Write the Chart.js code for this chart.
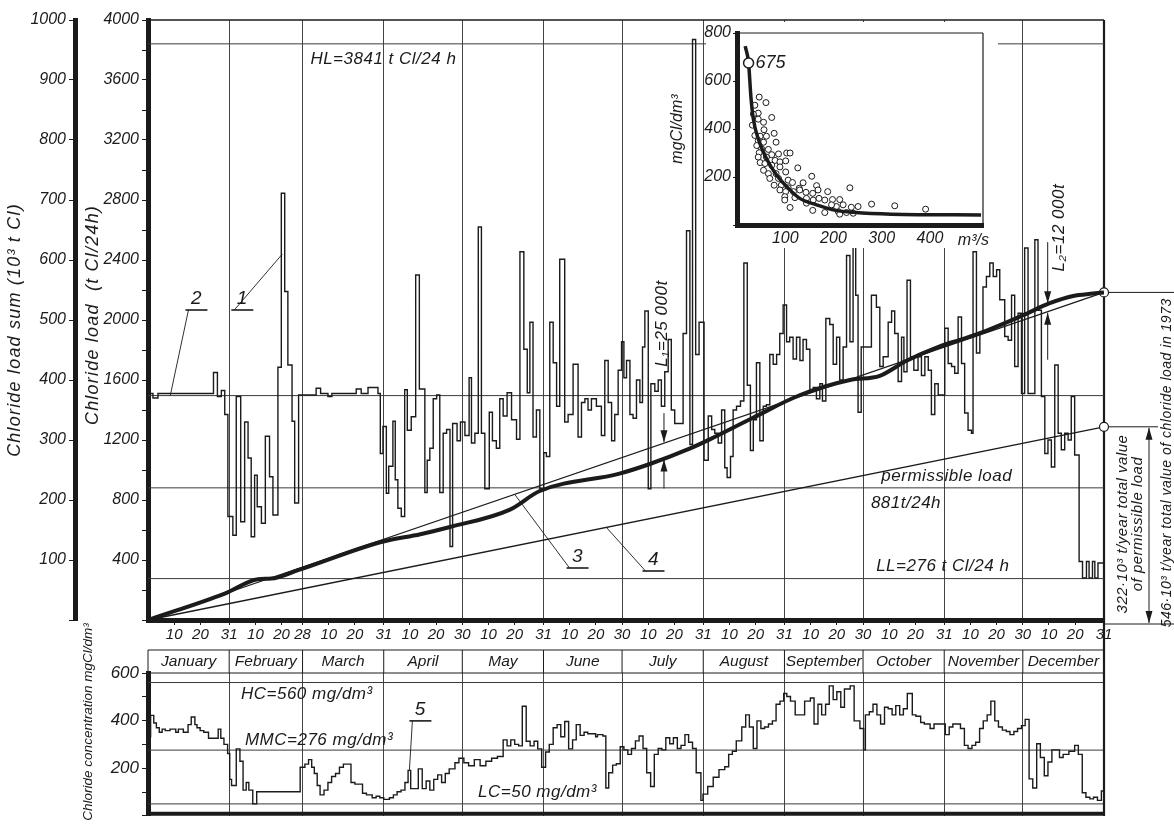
<!DOCTYPE html>
<html>
<head>
<meta charset="utf-8">
<script src="https://cdn.jsdelivr.net/npm/chart.js@4.4.1/dist/chart.umd.min.js"></script>
<style>
  html, body { margin: 0; padding: 0; background: #fff; }
  #wrap { position: relative; width: 1174px; height: 829px; overflow: hidden; background: #fff; }
  canvas { position: absolute; }
  #loadChart { left: 0; top: 0; }
  #concChart { left: 0; top: 600px; }
  #insetChart { left: 660px; top: 14px; }
</style>
</head>
<body>
<div id="wrap">
  <canvas id="loadChart" width="1174" height="650"></canvas>
  <canvas id="concChart" width="1174" height="229"></canvas>
  <canvas id="insetChart" width="340" height="245"></canvas>
</div>
<script>
// ---- data ----
const monthNames = ['January', 'February', 'March', 'April', 'May', 'June', 'July', 'August', 'September', 'October', 'November', 'December'];
const monthEnds = [31, 59, 90, 120, 151, 181, 212, 243, 273, 304, 334, 365];
const dayTickDays = [10, 20, 31, 41, 51, 59, 69, 79, 90, 100, 110, 120, 130, 140, 151, 161, 171, 181, 191, 201, 212, 222, 232, 243, 253, 263, 273, 283, 293, 304, 314, 324, 334, 344, 354, 365];
const dayTickLabels = ['10', '20', '31', '10', '20', '28', '10', '20', '31', '10', '20', '30', '10', '20', '31', '10', '20', '30', '10', '20', '31', '10', '20', '31', '10', '20', '30', '10', '20', '31', '10', '20', '30', '10', '20', '31'];

// daily chloride load (t Cl/24h), step starts in day-of-year
const loadDays = [0, 1.9, 3.8, 25, 26.5, 28, 29.3, 30.5, 32.4, 33.7, 35.4, 36.9, 38.2, 39.4, 40.7, 41.7, 43.3, 44.8, 46.4, 47.7, 49.6, 50.9, 52.2, 53.4, 55, 56, 57.5, 64.2, 65.9, 68.7, 70.2, 79.5, 81.4, 84, 87.8, 88.7, 89.7, 91, 91.9, 93.5, 94.4, 95.4, 96.7, 98, 99, 100.5, 102.2, 103.6, 105.7, 106.6, 107.6, 108.9, 110.2, 111.4, 112.7, 114, 115.3, 116.3, 118, 119.3, 121, 122.6, 123.5, 124.8, 126.1, 127.3, 128.6, 130.3, 131.5, 133, 134.3, 135.6, 137.1, 138.8, 140.7, 142, 143.5, 144.8, 145.8, 147, 148.3, 149.6, 151.1, 152.1, 153.4, 154.7, 156, 157.2, 159.1, 160.4, 162.3, 164.2, 165.5, 166.8, 168, 169.3, 171.2, 173.1, 174.4, 175.7, 177, 178.2, 179.5, 180.8, 181.7, 182.7, 184, 185.2, 186.5, 187.8, 188.8, 189.7, 191, 192, 193.5, 194.8, 196, 197.3, 198.6, 199.8, 201.1, 204.3, 205.6, 206.9, 207.9, 209.1, 210.4, 212.3, 213.9, 215.2, 216.4, 217.7, 219, 220.2, 221.1, 222.4, 223.4, 224.7, 226.2, 227.5, 228.8, 230, 231.1, 232.3, 233.6, 234.9, 236.1, 237.4, 238.7, 240, 241.2, 242.5, 243.8, 245, 246.3, 247.6, 248.9, 250.1, 251.4, 252.7, 254, 255.2, 256.5, 257.5, 258.8, 260.3, 261.6, 262.9, 264.1, 265.4, 266.7, 268, 269.2, 270.2, 271.1, 272.3, 276.2, 278.1, 279.4, 280.7, 282.6, 283.9, 285.1, 286.4, 287.7, 288.6, 289.8, 291.1, 292.4, 294, 295.3, 296.6, 297.9, 299.1, 300.4, 301.7, 304.2, 305.5, 306.8, 308, 309.3, 310.6, 311.8, 313.1, 314.4, 315, 316.3, 317.6, 318.8, 320.1, 321.4, 322.7, 324, 325.2, 327.1, 328.4, 329.7, 330.9, 332.2, 333.5, 334.7, 336, 338.6, 339.8, 341.1, 342.4, 343.6, 344.9, 346.2, 347.5, 348.7, 350, 351.3, 352.5, 353.8, 355.5, 356.8, 358.3, 359.3, 360.6, 361.5, 362.7];
const loadValues = [1510, 1480, 1510, 1650, 1490, 1530, 1370, 690, 565, 1490, 655, 1320, 1080, 555, 965, 755, 645, 1225, 955, 700, 1685, 2845, 2190, 1700, 1325, 780, 1500, 1545, 1510, 1490, 1510, 1540, 1510, 1550, 1510, 1110, 1290, 845, 1025, 1325, 935, 745, 690, 1535, 1265, 1355, 2300, 1540, 850, 1065, 1145, 1475, 1500, 850, 1245, 1270, 490, 1310, 1195, 1320, 1230, 1615, 1180, 1245, 2620, 1245, 875, 1385, 1195, 1145, 1475, 1360, 1515, 1335, 1205, 2455, 1805, 1515, 1985, 1220, 1400, 875, 1115, 1090, 1985, 1715, 1425, 2405, 1320, 1370, 1705, 1220, 1450, 1475, 1400, 1475, 1425, 1230, 1730, 1450, 1195, 1370, 1665, 1855, 1615, 1730, 1370, 1345, 1600, 1450, 1820, 2060, 875, 1575, 1525, 1600, 1425, 1655, 1870, 1400, 1310, 1910, 2595, 1170, 3870, 1770, 1985, 1065, 1360, 1270, 1245, 1180, 1400, 1015, 950, 1090, 1400, 1425, 1460, 2380, 1565, 1130, 1335, 1715, 1195, 1425, 1435, 1770, 1705, 1770, 1910, 2100, 1855, 1885, 1740, 1885, 1730, 1870, 1805, 1525, 1550, 1475, 1575, 1460, 2010, 1970, 1705, 1885, 1600, 1820, 2430, 1855, 2520, 2165, 1385, 1820, 2165, 2085, 1690, 1755, 1985, 2060, 1910, 1590, 1885, 1655, 2265, 1755, 1665, 1755, 1630, 1755, 1665, 1370, 1575, 1500, 1945, 1710, 1690, 1645, 2020, 1710, 1380, 1265, 1245, 2455, 1780, 1920, 2220, 2290, 2380, 2290, 2335, 2135, 1890, 1865, 2165, 1690, 2045, 1510, 2480, 1510, 2535, 2065, 1490, 1110, 1200, 1020, 1700, 1245, 1135, 1245, 1200, 1490, 1100, 390, 280, 390, 280, 390, 280, 380];

// cumulative chloride load (10^3 t Cl), curve 3
const sumDays = [0, 29.3, 42, 47, 57.3, 89, 104, 115.3, 138.2, 149.6, 180, 191.6, 207, 214.5, 231, 249, 268, 279.4, 289.6, 302.3, 310, 317.6, 334.1, 344.3, 353.2, 360.8, 365];
const sumValues = [0, 44, 68, 69, 83, 130, 143, 155, 184, 215, 244, 260, 286, 301, 337, 375, 400, 407, 432, 456, 467, 478, 508, 528, 540, 544, 546];

// straight totals: actual year total and permissible total (10^3 t)
const lineDays = [0, 365];
const totalLine = [0, 546];
const permLine = [0, 322];

// horizontal levels (t Cl/24h)
const levelHL = 3841;
const levelMean = 1496;
const levelPerm = 881;
const levelLL = 276;

// chloride concentration (mg Cl/dm3), step starts in day-of-year
const concDays = [0, 1, 2.2, 3.2, 4.3, 5.4, 6.6, 8.4, 10.6, 11.6, 13.5, 15.3, 16.5, 17.9, 18.7, 19.9, 21.3, 23.1, 26.8, 27.8, 29, 30.4, 31.2, 31.9, 33.7, 35.1, 36.3, 37.5, 38.5, 40, 41.5, 58.1, 59.9, 61.3, 62.5, 63.5, 64.6, 65.7, 67.2, 68.7, 70.1, 71.6, 73.1, 74.6, 77.5, 79, 81.9, 83.4, 85.6, 87.1, 88.5, 90, 92.2, 93.7, 95.1, 96.6, 98.1, 99.3, 100.3, 103.2, 104.7, 106.2, 107.6, 109.1, 110.6, 112.1, 113.5, 115, 117.2, 118.7, 120.6, 122.4, 124.6, 126.8, 129, 131.2, 133.4, 135.6, 137.1, 138.5, 140, 141.5, 142.9, 144.4, 145.9, 147.4, 148.8, 150.3, 151.8, 153.2, 154.7, 156.2, 157.6, 159.1, 160.6, 162.1, 163.5, 165, 166.5, 167.9, 170.9, 171.6, 173.7, 174.8, 175.9, 177.4, 178.8, 180.3, 181.7, 183.2, 184.6, 186.1, 187.5, 189, 190.4, 191.9, 193.3, 194.8, 196.2, 197.7, 199.2, 200.6, 202.1, 203.5, 205, 206.4, 207.9, 209.3, 211.1, 211.9, 213.7, 215.8, 218, 220.2, 221.7, 223.1, 224.6, 226.7, 228.2, 229.6, 231.1, 232.5, 234, 235.4, 236.9, 238.4, 239.8, 241.3, 242.7, 243.9, 245.3, 247.1, 250.7, 252.9, 254.3, 255.8, 257.2, 258.7, 260.1, 261.6, 263, 264.5, 265.9, 268.1, 269.6, 271.8, 273.2, 273.9, 275.4, 276.8, 278.3, 279.7, 281.2, 282.6, 284.1, 285.5, 287, 288.4, 289.9, 291.8, 293.2, 295, 296.4, 298.6, 300.1, 304.4, 305.9, 307.3, 310.2, 311.7, 313.1, 314.6, 316, 317.5, 318.9, 320.4, 321.8, 323.3, 324.7, 326.2, 327.7, 329.1, 330.6, 332, 333.5, 334.9, 336.4, 337.8, 339.3, 340.7, 342.2, 343.6, 345.1, 348, 349.4, 351.6, 353.8, 355.2, 356.7, 358.1, 359.6, 361, 362.5, 364];
const concValues = [332, 422, 390, 370, 351, 364, 358, 364, 351, 364, 351, 383, 415, 383, 370, 358, 351, 326, 364, 326, 300, 262, 153, 127, 281, 229, 108, 140, 108, 50, 101, 204, 217, 236, 204, 178, 127, 88, 108, 140, 165, 178, 204, 217, 140, 133, 95, 88, 76, 82, 76, 69, 76, 88, 101, 108, 140, 191, 114, 197, 114, 146, 108, 153, 172, 140, 178, 197, 223, 242, 223, 210, 236, 210, 229, 242, 249, 319, 294, 319, 300, 294, 460, 313, 294, 313, 281, 204, 268, 300, 370, 383, 332, 396, 281, 319, 383, 338, 351, 345, 332, 341, 335, 117, 181, 213, 219, 290, 277, 258, 283, 315, 335, 283, 181, 123, 258, 283, 277, 328, 303, 328, 283, 296, 341, 309, 283, 181, 65, 91, 123, 162, 194, 206, 258, 271, 315, 373, 424, 373, 283, 399, 367, 373, 386, 399, 469, 482, 514, 501, 482, 424, 482, 495, 386, 469, 424, 469, 546, 488, 521, 456, 533, 546, 399, 367, 277, 424, 437, 469, 424, 386, 456, 450, 424, 463, 424, 450, 514, 424, 418, 392, 386, 367, 386, 341, 373, 386, 367, 296, 283, 296, 309, 367, 399, 424, 482, 399, 373, 360, 354, 341, 354, 367, 379, 405, 155, 117, 303, 245, 168, 226, 277, 245, 258, 271, 296, 258, 97, 78, 71, 78, 65, 104];

// concentration levels (mg/dm3)
const levelHC = 560;
const levelMMC = 276;
const levelLC = 50;

// inset: concentration vs. discharge
const scatterFlow = [46, 60, 37, 44, 34, 72, 44, 55, 32, 56, 77, 37, 48, 61, 44, 55, 81, 41, 51, 65, 46, 72, 86, 103, 44, 61, 79, 89, 101, 110, 48, 58, 72, 89, 126, 55, 65, 81, 101, 68, 86, 106, 115, 155, 77, 92, 106, 129, 165, 137, 89, 101, 117, 130, 143, 157, 168, 188, 234, 99, 120, 144, 158, 170, 182, 198, 213, 99, 110, 144, 157, 182, 210, 220, 237, 251, 279, 327, 391, 213, 227, 241, 206, 196];
const scatterConc = [533, 510, 499, 466, 462, 448, 441, 428, 416, 397, 382, 373, 370, 370, 352, 345, 345, 331, 318, 315, 301, 293, 296, 300, 283, 283, 269, 263, 267, 300, 260, 256, 249, 242, 238, 228, 214, 214, 221, 194, 194, 187, 177, 203, 166, 166, 155, 153, 164, 176, 146, 139, 139, 146, 136, 132, 146, 139, 155, 118, 114, 111, 104, 111, 104, 106, 106, 104, 73, 91, 61, 52, 56, 84, 74, 77, 87, 80, 66, 45, 52, 49, 77, 84];
const curveFlow = [17, 24, 29, 34, 44, 61, 82, 103, 130, 165, 199, 241, 320, 506];
const curveConc = [745, 675, 530, 441, 359, 277, 208, 160, 111, 84, 63, 53, 45, 42];
const markedFlow = [24];
const markedConc = [675];

// ---- drawing ----
const INK = '#1b1b1b';
const FAM = "'Liberation Sans', 'DejaVu Sans', sans-serif";
const fnt = (size) => 'italic ' + size + 'px ' + FAM;

Chart.defaults.font.family = FAM;
Chart.defaults.font.style = 'italic';
Chart.defaults.color = INK;
Chart.defaults.animation = false;

const pts = (xs, ys) => xs.map((x, i) => ({ x: x, y: ys[i] }));
const stepPts = (xs, ys, end) => pts(xs, ys).concat([{ x: end, y: ys[ys.length - 1] }]);
const flat = (v) => [{ x: 0, y: v }, { x: 365, y: v }];

function interp(xs, ys, x) {
  for (let i = 1; i < xs.length; i++) {
    if (x <= xs[i]) return ys[i - 1] + (ys[i] - ys[i - 1]) * (x - xs[i - 1]) / (xs[i] - xs[i - 1]);
  }
  return ys[ys.length - 1];
}

function line(ctx, x1, y1, x2, y2) {
  ctx.beginPath(); ctx.moveTo(x1, y1); ctx.lineTo(x2, y2); ctx.stroke();
}
function arrow(ctx, x, yFrom, yTip) {
  line(ctx, x, yFrom, x, yTip);
  const d = yTip > yFrom ? 1 : -1;
  ctx.beginPath();
  ctx.moveTo(x, yTip); ctx.lineTo(x - 3.5, yTip - d * 12); ctx.lineTo(x + 3.5, yTip - d * 12);
  ctx.closePath(); ctx.fill();
}
function text(ctx, s, x, y, size, align) {
  ctx.font = fnt(size); ctx.textAlign = align || 'left'; ctx.textBaseline = 'middle';
  ctx.fillText(s, x, y);
}
function vtext(ctx, s, x, y, size) {
  ctx.save(); ctx.translate(x, y); ctx.rotate(-Math.PI / 2);
  ctx.font = fnt(size); ctx.textAlign = 'center'; ctx.textBaseline = 'middle';
  ctx.fillText(s, 0, 0); ctx.restore();
}
function tag(ctx, s, x, y, lx, ly) {
  // underlined number with a leader line
  text(ctx, s, x, y, 19, 'center');
  ctx.lineWidth = 1.6; line(ctx, x - 11, y + 11, x + 11, y + 11);
  ctx.lineWidth = 0.9; line(ctx, x - 8, y + 11, lx, ly);
}

const monthGrid = (c) => (c.tick && monthEnds.includes(c.tick.value)) ? '#444' : 'rgba(0,0,0,0)';

// ---------- main chart: daily load and cumulative sum ----------
const loadDecor = {
  id: 'loadDecor',
  beforeDatasetsDraw(chart) {
    const { ctx, chartArea: a, scales } = chart;
    const YS = (v) => scales.ySum.getPixelForValue(v);
    ctx.save();
    ctx.strokeStyle = INK;
    ctx.lineWidth = 1.5; line(ctx, a.left, a.top, a.right, a.top);
    ctx.lineWidth = 2.2; line(ctx, a.right, a.top, a.right, chart.height);
    ctx.lineWidth = 1;
    line(ctx, a.right, YS(totalLine[1]), chart.width, YS(totalLine[1]));
    line(ctx, a.right, YS(permLine[1]), chart.width - 16, YS(permLine[1]));
    line(ctx, a.right, a.bottom + 4, chart.width, a.bottom + 4);
    ctx.restore();
  },
  afterDraw(chart) {
    const { ctx, chartArea: a, scales } = chart;
    const X = (v) => scales.x.getPixelForValue(v);
    const YL = (v) => scales.yLoad.getPixelForValue(v);
    const YS = (v) => scales.ySum.getPixelForValue(v);
    ctx.save();
    ctx.strokeStyle = INK; ctx.fillStyle = INK;

    // axis titles
    ctx.letterSpacing = '1.2px';
    vtext(ctx, 'Chloride load sum (10\u00b3 t Cl)', 15, (a.top + a.bottom) / 2 + 10, 18);
    vtext(ctx, 'Chloride load  (t Cl/24h)', 93, (a.top + a.bottom) / 2 - 5, 18);

    ctx.letterSpacing = '0.5px';
    text(ctx, 'HL=3841 t Cl/24 h', X(62), YL(3740), 17);
    text(ctx, 'permissible load', X(280), YL(955), 17);
    text(ctx, '881t/24h', X(276), YL(780), 17);
    text(ctx, 'LL=276 t Cl/24 h', X(278), YL(355), 17);

    tag(ctx, '2', X(18.5), YL(2140), X(8.5), YL(levelMean));
    tag(ctx, '1', X(36), YL(2140), X(51.3), YL(2440));
    tag(ctx, '3', X(164), YS(105), X(140), YS(totalLine[1] * 140 / 365));
    tag(ctx, '4', X(193), YS(100), X(175), YS(permLine[1] * 175 / 365));

    // L1 and L2 gaps between the actual and the straight cumulative lines
    ctx.lineWidth = 1;
    const d1 = 197, d2 = 343.5;
    const thin1 = YS(totalLine[1] * d1 / 365), thick1 = YS(interp(sumDays, sumValues, d1));
    arrow(ctx, X(d1), thin1 - 30, thin1 - 1);
    arrow(ctx, X(d1), thick1 + 30, thick1 + 1);
    vtext(ctx, 'L\u2081=25 000t', X(d1) - 2, YS(494), 17);
    const thin2 = YS(totalLine[1] * d2 / 365), thick2 = YS(interp(sumDays, sumValues, d2));
    arrow(ctx, X(d2), thick2 - 62, thick2 - 1);
    arrow(ctx, X(d2), thin2 + 48, thin2 + 1);
    vtext(ctx, 'L\u2082=12 000t', X(d2) + 12, YS(654), 17);

    // right margin: totals
    const ax = a.right + 45;
    ctx.lineWidth = 1;
    arrow(ctx, ax, (YS(permLine[1]) + a.bottom) / 2, YS(permLine[1]) + 1);
    arrow(ctx, ax, (YS(permLine[1]) + a.bottom) / 2, a.bottom + 3);
    vtext(ctx, '322\u00b710\u00b3 t/year total value', a.right + 19, YS(160), 15);
    vtext(ctx, 'of permissible load', a.right + 34, YS(160), 15);
    vtext(ctx, '546\u00b710\u00b3 t/year total value of chloride load in 1973', a.right + 63, YS(262), 14);
    ctx.restore();
  }
};

const lvlStyle = { borderColor: '#3a3a3a', borderWidth: 1, pointRadius: 0, yAxisID: 'yLoad' };
const endDot = { pointRadius: (c) => (c.dataIndex === 1 ? 4.5 : 0), pointBackgroundColor: '#fff', pointBorderColor: INK, pointBorderWidth: 1.2, clip: false };

new Chart(document.getElementById('loadChart'), {
  type: 'line',
  data: {
    datasets: [
      { data: pts(sumDays, sumValues), yAxisID: 'ySum', borderColor: INK, borderWidth: 4, pointRadius: 0, cubicInterpolationMode: 'monotone' },
      Object.assign({ data: pts(lineDays, totalLine), yAxisID: 'ySum', borderColor: INK, borderWidth: 1.3 }, endDot),
      Object.assign({ data: pts(lineDays, permLine), yAxisID: 'ySum', borderColor: INK, borderWidth: 1.3 }, endDot),
      { data: stepPts(loadDays, loadValues, 365), yAxisID: 'yLoad', stepped: true, borderColor: INK, borderWidth: 1.4, pointRadius: 0 },
      Object.assign({ data: flat(levelHL) }, lvlStyle),
      Object.assign({ data: flat(levelMean) }, lvlStyle),
      Object.assign({ data: flat(levelPerm) }, lvlStyle),
      Object.assign({ data: flat(levelLL) }, lvlStyle)
    ]
  },
  options: {
    responsive: false,
    layout: { padding: { left: 0, top: 20, right: 70, bottom: 0 } },
    plugins: { legend: { display: false }, tooltip: { enabled: false } },
    scales: {
      x: {
        type: 'linear', min: 0, max: 365,
        afterBuildTicks: (s) => { s.ticks = dayTickDays.map((v) => ({ value: v })); },
        afterFit: (s) => { s.height = 30; },
        ticks: { autoSkip: false, maxRotation: 0, padding: 1, font: { size: 15 }, callback: (v, i) => dayTickLabels[i] },
        grid: { color: monthGrid, tickColor: INK, tickLength: 5, lineWidth: 1 },
        border: { color: INK, width: 5 }
      },
      yLoad: {
        type: 'linear', position: 'left', weight: 0, min: 0, max: 4000,
        afterFit: (s) => { s.width = 73; },
        ticks: { stepSize: 200, padding: 3, font: { size: 16 }, callback: (v) => (v > 0 && v % 400 === 0 ? v : '') },
        grid: { drawOnChartArea: false, tickColor: INK, tickLength: 6 },
        border: { color: INK, width: 5 }
      },
      ySum: {
        type: 'linear', position: 'left', weight: 1, min: 0, max: 1000,
        afterFit: (s) => { s.width = 75; },
        ticks: { stepSize: 100, padding: 3, font: { size: 16 }, callback: (v) => (v > 0 ? v : '') },
        grid: { drawOnChartArea: false, tickColor: INK, tickLength: 6 },
        border: { color: INK, width: 5 }
      }
    }
  },
  plugins: [loadDecor]
});

// ---------- lower chart: chloride concentration ----------
const concDecor = {
  id: 'concDecor',
  afterDraw(chart) {
    const { ctx, chartArea: a, scales } = chart;
    const X = (v) => scales.x.getPixelForValue(v);
    const Y = (v) => scales.y.getPixelForValue(v);
    const rowTop = a.top - 23;
    ctx.save();
    ctx.strokeStyle = INK; ctx.fillStyle = INK;
    ctx.lineWidth = 1;
    line(ctx, a.left, rowTop, a.right, rowTop);
    line(ctx, a.left, a.top, a.right, a.top);
    line(ctx, a.left, rowTop, a.left, a.top);
    let prev = 0;
    monthEnds.forEach((d, i) => {
      line(ctx, X(d), rowTop, X(d), a.top);
      text(ctx, monthNames[i], (X(prev) + X(d)) / 2, rowTop + 12, 15.5, 'center');
      prev = d;
    });
    ctx.lineWidth = 4; line(ctx, a.left, a.bottom - 2, a.right, a.bottom - 2);
    ctx.lineWidth = 2.2; line(ctx, a.right, rowTop, a.right, a.bottom);

    vtext(ctx, 'Chloride concentration mgCl/dm\u00b3', 88, 122, 13.5);
    ctx.letterSpacing = '0.5px';
    text(ctx, 'HC=560 mg/dm\u00b3', X(35.5), Y(510), 17);
    text(ctx, 'MMC=276 mg/dm\u00b3', X(37), Y(318), 17);
    text(ctx, 'LC=50 mg/dm\u00b3', X(126), Y(100), 17);
    tag(ctx, '5', X(104), Y(445), X(99.8), Y(191));
    ctx.restore();
  }
};

const concLvl = { borderColor: '#3a3a3a', borderWidth: 1, pointRadius: 0 };

new Chart(document.getElementById('concChart'), {
  type: 'line',
  data: {
    datasets: [
      { data: stepPts(concDays, concValues, 365), stepped: true, borderColor: INK, borderWidth: 1.4, pointRadius: 0 },
      Object.assign({ data: flat(levelHC) }, concLvl),
      Object.assign({ data: flat(levelMMC) }, concLvl),
      Object.assign({ data: flat(levelLC) }, concLvl)
    ]
  },
  options: {
    responsive: false,
    layout: { padding: { left: 75, top: 73, right: 70, bottom: 0 } },
    plugins: { legend: { display: false }, tooltip: { enabled: false } },
    scales: {
      x: {
        type: 'linear', min: 0, max: 365,
        afterBuildTicks: (s) => { s.ticks = monthEnds.map((v) => ({ value: v })); },
        afterFit: (s) => { s.height = 0; },
        ticks: { display: false },
        grid: { color: monthGrid, drawTicks: false, lineWidth: 1 },
        border: { display: false }
      },
      y: {
        min: 0, max: 600,
        afterFit: (s) => { s.width = 73; },
        ticks: { stepSize: 100, padding: 3, font: { size: 17 }, callback: (v) => (v > 0 && v % 200 === 0 ? v : '') },
        grid: { drawOnChartArea: false, tickColor: INK, tickLength: 6 },
        border: { color: INK, width: 5 }
      }
    }
  },
  plugins: [concDecor]
});

// ---------- inset: concentration against discharge ----------
const insetDecor = {
  id: 'insetDecor',
  beforeDraw(chart) {
    const { ctx } = chart;
    ctx.save(); ctx.fillStyle = '#fff'; ctx.fillRect(46, 8, 292, 226); ctx.restore();
  },
  afterDraw(chart) {
    const { ctx, chartArea: a, scales } = chart;
    ctx.save();
    ctx.strokeStyle = INK; ctx.fillStyle = INK; ctx.lineWidth = 1.2;
    line(ctx, a.left, a.top, a.right, a.top);
    line(ctx, a.right, a.top, a.right, a.bottom);
    text(ctx, String(markedConc[0]), scales.x.getPixelForValue(markedFlow[0]) + 7, scales.y.getPixelForValue(markedConc[0]), 18);
    text(ctx, 'm\u00b3/s', scales.x.getPixelForValue(490), a.bottom + 16, 16, 'center');
    ctx.restore();
  }
};

new Chart(document.getElementById('insetChart'), {
  type: 'scatter',
  data: {
    datasets: [
      { data: pts(markedFlow, markedConc), pointRadius: 5, pointBackgroundColor: '#fff', pointBorderColor: INK, pointBorderWidth: 1.5 },
      { data: pts(curveFlow, curveConc), showLine: true, borderColor: INK, borderWidth: 3.5, pointRadius: 0, cubicInterpolationMode: 'monotone' },
      { data: pts(scatterFlow, scatterConc), pointRadius: 3, pointBackgroundColor: '#fff', pointBorderColor: INK, pointBorderWidth: 1 }
    ]
  },
  options: {
    responsive: false,
    layout: { padding: { left: 0, top: 19, right: 17, bottom: 0 } },
    plugins: { legend: { display: false }, tooltip: { enabled: false } },
    scales: {
      x: {
        type: 'linear', min: 0, max: 510,
        afterBuildTicks: (s) => { s.ticks = [100, 200, 300, 400].map((v) => ({ value: v })); },
        afterFit: (s) => { s.height = 34; },
        ticks: { padding: 4, font: { size: 16 } },
        grid: { drawOnChartArea: false, drawTicks: false },
        border: { color: INK, width: 5 }
      },
      y: {
        min: 0, max: 800,
        afterFit: (s) => { s.width = 77; },
        ticks: { stepSize: 200, padding: 2, font: { size: 16 }, callback: (v) => (v > 0 ? v : '') },
        grid: { drawOnChartArea: false, tickColor: INK, tickLength: 4 },
        border: { color: INK, width: 5 },
        title: { display: true, text: 'mgCl/dm\u00b3', font: { size: 16 }, padding: { top: 8, bottom: 0 } }
      }
    }
  },
  plugins: [insetDecor]
});
</script>
</body>
</html>
